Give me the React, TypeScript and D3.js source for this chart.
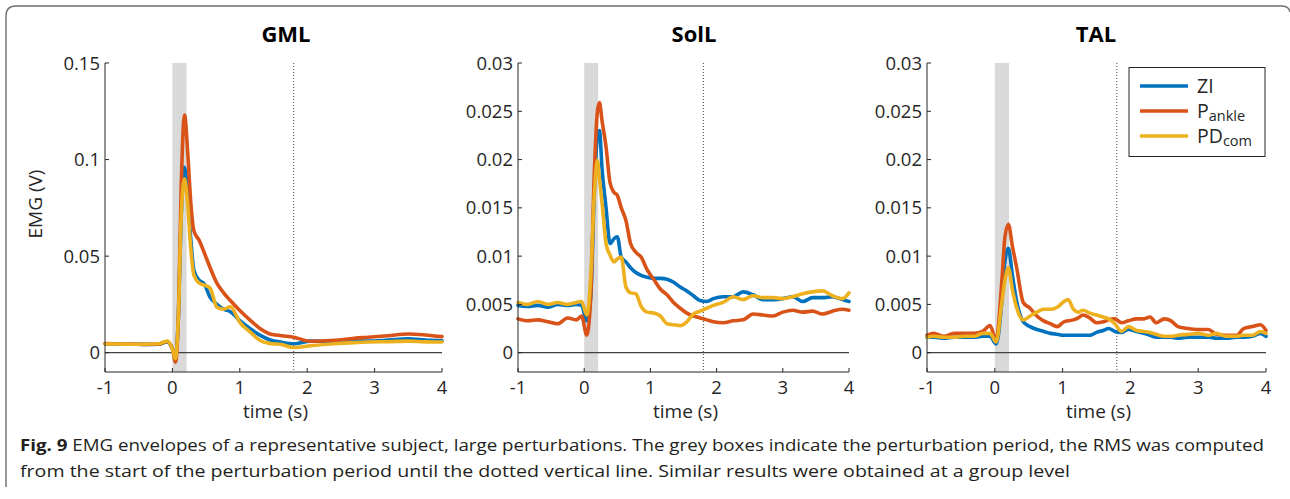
import React from "react";
import * as d3 from "d3";

// ---------- data ----------
const seriesNames = ["ZI", "Pankle", "PDcom"];
const xTicks = [-1, 0, 1, 2, 3, 4];
const perturbationPeriod = [0, 0.21];
const rmsEnd = 1.8;

// GML
const timeGML = [-1, -0.8, -0.6, -0.4, -0.2, -0.08, 0.0, 0.045, 0.09, 0.13, 0.18, 0.23, 0.27, 0.32, 0.4, 0.47, 0.56, 0.66, 0.76, 0.86, 1.0, 1.16, 1.31, 1.45, 1.62, 1.8, 2.05, 2.4, 2.7, 2.9, 3.2, 3.5, 3.75, 4.0];
const gmlZI = [0.0046, 0.0045, 0.0044, 0.0043, 0.0044, 0.0056, 0.002, -0.0025, 0.02, 0.07, 0.096, 0.08, 0.06, 0.0426, 0.0374, 0.0357, 0.0287, 0.025, 0.0225, 0.0212, 0.0166, 0.0123, 0.0088, 0.0066, 0.0054, 0.0046, 0.006, 0.0058, 0.006, 0.006, 0.0065, 0.0072, 0.0066, 0.0062];
const gmlPankle = [0.0047, 0.0046, 0.0045, 0.0043, 0.0045, 0.0058, 0.002, -0.0049, 0.02, 0.085, 0.123, 0.102, 0.079, 0.063, 0.058, 0.052, 0.044, 0.036, 0.031, 0.027, 0.0218, 0.0166, 0.0123, 0.0097, 0.0088, 0.008, 0.0059, 0.0064, 0.0075, 0.008, 0.0088, 0.0097, 0.0092, 0.0083];
const gmlPDcom = [0.0045, 0.0045, 0.0044, 0.0044, 0.0046, 0.006, 0.002, -0.0031, 0.02, 0.07, 0.09, 0.075, 0.055, 0.04, 0.036, 0.035, 0.0335, 0.0235, 0.0225, 0.0238, 0.0157, 0.0105, 0.0062, 0.0048, 0.0042, 0.0027, 0.0036, 0.0046, 0.0052, 0.0055, 0.0057, 0.006, 0.0056, 0.0055];
const gmlYTicks = [0, 0.05, 0.1, 0.15];

// SolL
const timeSolL = [-1, -0.85, -0.7, -0.55, -0.4, -0.25, -0.12, -0.04, 0.04, 0.1, 0.15, 0.2, 0.23, 0.27, 0.33, 0.39, 0.45, 0.5, 0.56, 0.63, 0.7, 0.78, 0.86, 0.95, 1.05, 1.15, 1.25, 1.35, 1.45, 1.55, 1.65, 1.75, 1.85, 1.95, 2.1, 2.25, 2.4, 2.55, 2.7, 2.85, 3.0, 3.15, 3.3, 3.45, 3.6, 3.75, 3.9, 4.0];
const solZI = [0.0049, 0.0048, 0.0049, 0.0047, 0.005, 0.0049, 0.005, 0.0049, 0.0033, 0.006, 0.016, 0.0225, 0.023, 0.019, 0.015, 0.0113, 0.0118, 0.012, 0.0099, 0.0094, 0.0088, 0.0083, 0.008, 0.0078, 0.0077, 0.0077, 0.0076, 0.0073, 0.0068, 0.0064, 0.0059, 0.0054, 0.0053, 0.0056, 0.0058, 0.0058, 0.0063, 0.006, 0.0055, 0.0055, 0.0056, 0.0058, 0.0053, 0.0057, 0.0057, 0.0058, 0.0055, 0.0053];
const solPankle = [0.0035, 0.0033, 0.0034, 0.0032, 0.003, 0.0036, 0.0034, 0.0038, 0.0018, 0.006, 0.018, 0.025, 0.0259, 0.024, 0.0213, 0.0176, 0.0166, 0.0163, 0.015, 0.0137, 0.0113, 0.0104, 0.0099, 0.0086, 0.0076, 0.0066, 0.006, 0.0052, 0.0046, 0.0041, 0.0038, 0.0036, 0.0034, 0.0032, 0.0031, 0.0033, 0.0034, 0.004, 0.0039, 0.0038, 0.0042, 0.0044, 0.0042, 0.0043, 0.004, 0.0043, 0.0045, 0.0044];
const solPDcom = [0.0052, 0.005, 0.0053, 0.005, 0.0052, 0.005, 0.0052, 0.0053, 0.0039, 0.008, 0.016, 0.0199, 0.018, 0.0155, 0.0113, 0.0101, 0.0094, 0.0097, 0.0099, 0.0068, 0.0062, 0.0061, 0.0048, 0.0042, 0.0041, 0.0038, 0.003, 0.0029, 0.0028, 0.0032, 0.004, 0.0043, 0.0046, 0.0049, 0.0052, 0.0058, 0.0055, 0.0059, 0.0057, 0.0057, 0.0056, 0.0058, 0.0061, 0.0063, 0.0064, 0.0059, 0.0056, 0.0062];
const smallYTicks = [0, 0.005, 0.01, 0.015, 0.02, 0.025, 0.03];

// TAL
const timeTAL = [-1, -0.9, -0.75, -0.6, -0.45, -0.3, -0.18, -0.07, 0.02, 0.1, 0.15, 0.2, 0.26, 0.32, 0.42, 0.52, 0.62, 0.72, 0.82, 0.92, 1.02, 1.08, 1.16, 1.23, 1.3, 1.4, 1.5, 1.6, 1.68, 1.77, 1.87, 1.97, 2.09, 2.2, 2.29, 2.38, 2.5, 2.6, 2.7, 2.85, 3.0, 3.15, 3.27, 3.42, 3.57, 3.67, 3.8, 3.92, 4.0];
const talZI = [0.0016, 0.0016, 0.0015, 0.0016, 0.0016, 0.0016, 0.0017, 0.0017, 0.0009, 0.005, 0.0095, 0.0108, 0.008, 0.0054, 0.0032, 0.0027, 0.0024, 0.0022, 0.002, 0.0019, 0.0018, 0.0018, 0.0018, 0.0018, 0.0018, 0.0018, 0.0021, 0.0023, 0.0025, 0.0022, 0.0021, 0.0024, 0.0022, 0.002, 0.0018, 0.0016, 0.0016, 0.0016, 0.0015, 0.0016, 0.0016, 0.0016, 0.0015, 0.0015, 0.0016, 0.0016, 0.0017, 0.002, 0.0017];
const talPankle = [0.0018, 0.002, 0.0017, 0.002, 0.002, 0.002, 0.0022, 0.0028, 0.0013, 0.007, 0.012, 0.0133, 0.011, 0.0089, 0.0052, 0.0046, 0.0038, 0.0033, 0.003, 0.0027, 0.0032, 0.0033, 0.0034, 0.0036, 0.0039, 0.0036, 0.0031, 0.0032, 0.0034, 0.0035, 0.0031, 0.0033, 0.0035, 0.0035, 0.0037, 0.0031, 0.0035, 0.0033, 0.0027, 0.0025, 0.0024, 0.0024, 0.0019, 0.0018, 0.0018, 0.0025, 0.0027, 0.0029, 0.0023];
const talPDcom = [0.0016, 0.0017, 0.0016, 0.0016, 0.0017, 0.0017, 0.002, 0.002, 0.0011, 0.005, 0.0075, 0.0088, 0.0065, 0.0047, 0.0034, 0.0038, 0.0042, 0.0045, 0.0045, 0.0047, 0.0053, 0.0055, 0.0045, 0.0042, 0.0044, 0.0041, 0.0039, 0.0037, 0.0035, 0.003, 0.0022, 0.0027, 0.0023, 0.0022, 0.0021, 0.0019, 0.0017, 0.0017, 0.0018, 0.0019, 0.002, 0.0018, 0.002, 0.0017, 0.0017, 0.0018, 0.0018, 0.0022, 0.002];

// ---------- styling ----------
const colors = ["#0072BD", "#D95319", "#EDB120"];
const font = "'Open Sans', 'DejaVu Sans', sans-serif";
const ink = "#262626";

const panels = [
  { title: "GML", left: 105, right: 442, titleX: 286, yDomain: [-0.01, 0.15], yTicks: gmlYTicks, time: timeGML, series: [gmlZI, gmlPankle, gmlPDcom], yLabel: true, legend: false },
  { title: "SolL", left: 518, right: 849, titleX: 694, yDomain: [-0.002, 0.03], yTicks: smallYTicks, time: timeSolL, series: [solZI, solPankle, solPDcom], yLabel: false, legend: false },
  { title: "TAL", left: 927, right: 1266, titleX: 1096, yDomain: [-0.002, 0.03], yTicks: smallYTicks, time: timeTAL, series: [talZI, talPankle, talPDcom], yLabel: false, legend: true },
];

const plotTop = 63;
const plotBottom = 372;
const fmt = d3.format("~g");

function LegendLabel({ name }: { name: string }) {
  if (name === "Pankle")
    return (
      <>
        <tspan>P</tspan>
        <tspan dy={2.5} fontSize={14.5}>ankle</tspan>
      </>
    );
  if (name === "PDcom")
    return (
      <>
        <tspan>PD</tspan>
        <tspan dy={2.5} fontSize={14.5}>com</tspan>
      </>
    );
  return <>{name}</>;
}

function Panel({ p }: { p: any }) {
  const x = d3.scaleLinear().domain([-1, 4]).range([p.left, p.right]);
  const y = d3.scaleLinear().domain(p.yDomain).range([plotBottom, plotTop]);
  const line = d3
    .line<number>()
    .x((_, i) => x(p.time[i]))
    .y((v) => y(v))
    .curve(d3.curveMonotoneX);
  const tick = 4;
  return (
    <g>
      <text x={p.titleX} y={42} textAnchor="middle" fontFamily={font} fontWeight={700} fontSize={22} fill="#000">
        {p.title}
      </text>
      {/* perturbation period */}
      <rect
        x={x(perturbationPeriod[0])}
        y={plotTop}
        width={x(perturbationPeriod[1]) - x(perturbationPeriod[0])}
        height={plotBottom - plotTop}
        fill="#d9d9d9"
      />
      {/* zero reference */}
      <line x1={p.left} x2={p.right} y1={y(0)} y2={y(0)} stroke="#404040" strokeWidth={1.2} />
      {/* end of RMS window */}
      <line x1={x(rmsEnd)} x2={x(rmsEnd)} y1={plotTop} y2={plotBottom} stroke="#404040" strokeWidth={1} strokeDasharray="1,2" />
      {p.series.map((s: number[], i: number) => (
        <path key={i} d={line(s) || ""} fill="none" stroke={colors[i]} strokeWidth={3.6} strokeLinejoin="round" strokeLinecap="round" />
      ))}
      {/* axes */}
      <line x1={p.left} x2={p.left} y1={plotTop} y2={plotBottom} stroke={ink} strokeWidth={1} />
      <line x1={p.left} x2={p.right} y1={plotBottom} y2={plotBottom} stroke={ink} strokeWidth={1} />
      {xTicks.map((t) => (
        <g key={t}>
          <line x1={x(t)} x2={x(t)} y1={plotBottom} y2={plotBottom - tick} stroke={ink} strokeWidth={1} />
          <text x={x(t)} y={394} textAnchor="middle" fontFamily={font} fontSize={18.5} fill={ink}>
            {t < 0 ? "-" + Math.abs(t) : t}
          </text>
        </g>
      ))}
      {p.yTicks.map((t: number) => (
        <g key={t}>
          <line x1={p.left} x2={p.left + tick} y1={y(t)} y2={y(t)} stroke={ink} strokeWidth={1} />
          <text x={p.left - 5} y={y(t) + 6.6} textAnchor="end" fontFamily={font} fontSize={18.5} fill={ink}>
            {fmt(t)}
          </text>
        </g>
      ))}
      <text x={(p.left + p.right) / 2 + 2} y={418} textAnchor="middle" fontFamily={font} fontSize={19} fill={ink}>
        time (s)
      </text>
      {p.yLabel && (
        <text transform={`translate(42,204) rotate(-90)`} textAnchor="middle" fontFamily={font} fontSize={19} fill={ink}>
          EMG (V)
        </text>
      )}
      {p.legend && (
        <g>
          <rect x={1129} y={67.5} width={136} height={89} fill="#fff" stroke={ink} strokeWidth={1} />
          {seriesNames.map((name, i) => {
            const ly = 86 + i * 25;
            return (
              <g key={name}>
                <line x1={1140} x2={1188} y1={ly} y2={ly} stroke={colors[i]} strokeWidth={3.6} />
                <text x={1197} y={ly + 7} fontFamily={font} fontSize={19.5} fill={ink}>
                  <LegendLabel name={name} />
                </text>
              </g>
            );
          })}
        </g>
      )}
    </g>
  );
}

export default function App() {
  return (
    <svg width={1290} height={499} style={{ position: "absolute", left: 0, top: 0, background: "#fff" }}>
      <rect width={1290} height={499} fill="#fff" />
      {/* figure frame */}
      <path d="M6,487 V16 Q6,6 16,6 H1281 Q1289,6 1290,12" fill="none" stroke="#6e6e6e" strokeWidth={1.4} />
      {panels.map((p) => (
        <Panel key={p.title} p={p} />
      ))}
      <text x={20} y={451} fontFamily={font} fontSize={16} fill="#231f20" textLength={1244} lengthAdjust="spacingAndGlyphs">
        <tspan fontWeight={700}>Fig. 9</tspan>
        <tspan> EMG envelopes of a representative subject, large perturbations. The grey boxes indicate the perturbation period, the RMS was computed</tspan>
      </text>
      <text x={20} y={477} fontFamily={font} fontSize={16} fill="#231f20" textLength={1050} lengthAdjust="spacingAndGlyphs">
        from the start of the perturbation period until the dotted vertical line. Similar results were obtained at a group level
      </text>
    </svg>
  );
}
